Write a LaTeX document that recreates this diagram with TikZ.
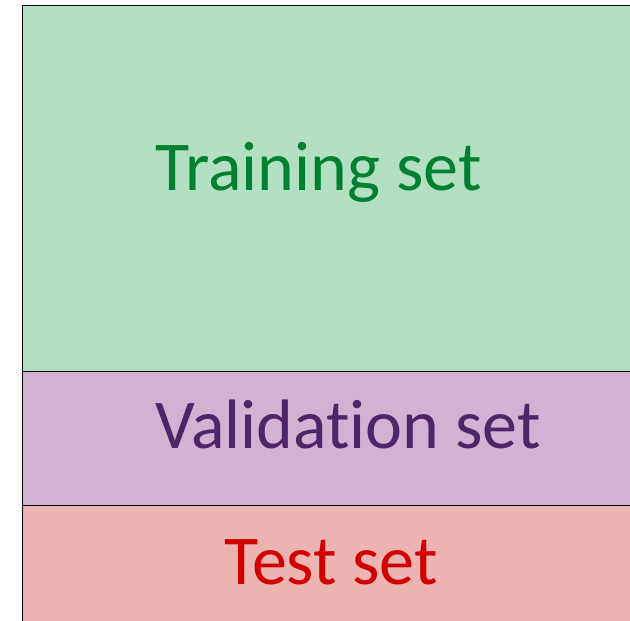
\documentclass[tikz,border=0pt]{standalone}
\usepackage{fontspec}
\setmainfont{Carlito}[Ligatures=NoCommon]
\definecolor{trainfill}{HTML}{B3DFC3}
\definecolor{traintext}{HTML}{008030}
\definecolor{valfill}{HTML}{D2B2D2}
\definecolor{valtext}{HTML}{4F2468}
\definecolor{testfill}{HTML}{EEB3B3}
\definecolor{testtext}{HTML}{D00000}
\tikzset{
  part/.style={draw=black, line width=1pt},
  lbl/.style={anchor=base, inner sep=0pt, font=\fontsize{70}{70}\selectfont}
}
\begin{document}
\begin{tikzpicture}[x=1pt,y=-1pt]
\useasboundingbox (0,0) rectangle (630,621);
\path[part, fill=trainfill] (22,5.5) rectangle (640,371);
\path[part, fill=valfill] (22,371) rectangle (640,505);
\path[part, fill=testfill] (22,505) rectangle (640,630);
\node[lbl, text=traintext] (train) at (318.5,190) {Training set};
\node[lbl, text=valtext] (val) at (348,448) {Validation set};
\node[lbl, text=testtext] (test) at (331,584) {Test set};
\end{tikzpicture}
\end{document}
